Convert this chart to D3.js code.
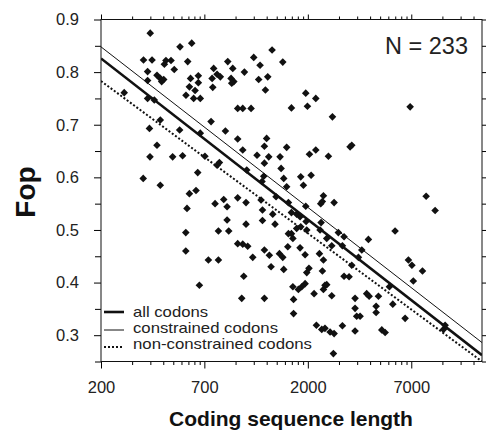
<!DOCTYPE html>
<html>
<head>
<meta charset="utf-8">
<script src="https://cdn.jsdelivr.net/npm/d3@7"></script>
<style>
  body { margin: 0; background: #fff; }
  svg { display: block; }
</style>
</head>
<body>
<svg width="487" height="436"></svg>
<script>
// coding sequence length (log axis) and Fop
const seqLength = [
  346, 482, 549, 1343, 321, 353, 412, 436, 405, 452, 525, 701, 820, 867, 1095, 1175, 1513,
  336, 373, 387, 402, 336, 393, 542, 591, 591, 728, 689, 755, 851, 877, 987, 1157, 1280,
  694, 857, 535, 570, 1247, 259, 515, 561, 604, 336, 362, 916, 969, 1063,
  343, 387, 480, 604, 681, 799, 916, 373, 345, 444, 496, 969, 1233, 1264, 1580, 1136, 1294,
  1233, 1468, 1485, 636, 728, 747, 587, 320, 387, 1013, 1224, 1201, 1529, 1580,
  535, 576, 916, 1005, 712, 784, 814, 521, 1188, 1207, 1353, 1404, 1611,
  814, 739, 829, 1005, 1207, 1388, 1611, 514, 916, 969, 1024, 1233, 1303, 1458, 1513, 1600,
  1083, 514, 661, 739, 1328, 1529, 980, 598, 958, 1233,
  1954, 2185, 1991, 1666, 2630, 6246, 3201, 3261, 2036, 2185, 2515, 1848, 1904, 2074,
  2379, 2309, 2350, 2679, 1954, 7464, 8248, 1666, 1766, 1834, 1962, 2318, 1766, 1848, 1976,
  1666, 1693, 2292, 2468, 2610, 2809, 2993, 2939, 3925, 3646, 5282, 1834, 1940, 2275, 2379,
  3261, 3512, 2025, 1976, 2352, 2993, 3165, 6127, 6371, 7165, 6470, 1940, 1693, 1800, 1869,
  2144, 2420, 2379, 2468, 2610, 1706, 1706, 3383, 3383, 3850, 3957, 4389, 4277, 4277, 3578,
  3445, 4960, 5149, 5906, 2200, 2335, 2420, 2562, 2679, 2939, 3383, 4556, 4728, 9219, 9052, 2658
];
const fop = [
  0.874, 0.848, 0.855, 0.842, 0.823, 0.823, 0.822, 0.822, 0.815, 0.805, 0.820, 0.807, 0.820, 0.807, 0.828, 0.813, 0.819,
  0.801, 0.794, 0.788, 0.786, 0.784, 0.782, 0.788, 0.793, 0.780, 0.796, 0.788, 0.791, 0.788, 0.782, 0.800, 0.786, 0.791,
  0.771, 0.779, 0.772, 0.765, 0.766, 0.761, 0.756, 0.750, 0.750, 0.750, 0.747, 0.731, 0.731, 0.731,
  0.693, 0.709, 0.690, 0.684, 0.706, 0.688, 0.673, 0.661, 0.639, 0.639, 0.641, 0.652, 0.659, 0.674, 0.657, 0.642, 0.639,
  0.627, 0.639, 0.617, 0.640, 0.623, 0.628, 0.609, 0.598, 0.585, 0.614, 0.602, 0.592, 0.598, 0.582,
  0.569, 0.575, 0.561, 0.552, 0.550, 0.558, 0.544, 0.541, 0.557, 0.538, 0.530, 0.563, 0.552,
  0.519, 0.498, 0.498, 0.511, 0.518, 0.511, 0.493, 0.495, 0.474, 0.473, 0.469, 0.462, 0.452, 0.455, 0.448, 0.468,
  0.448, 0.460, 0.443, 0.443, 0.430, 0.425, 0.412, 0.395, 0.370, 0.370,
  0.760, 0.750, 0.735, 0.732, 0.715, 0.734, 0.658, 0.661, 0.644, 0.652, 0.640, 0.601, 0.585, 0.604,
  0.565, 0.550, 0.554, 0.552, 0.545, 0.564, 0.537, 0.533, 0.530, 0.525, 0.516, 0.514, 0.503, 0.506, 0.500,
  0.493, 0.484, 0.500, 0.484, 0.470, 0.495, 0.487, 0.470, 0.482, 0.462, 0.498, 0.466, 0.453, 0.455, 0.443,
  0.433, 0.448, 0.427, 0.419, 0.422, 0.412, 0.411, 0.443, 0.433, 0.422, 0.403, 0.398, 0.392, 0.387, 0.392,
  0.379, 0.395, 0.387, 0.396, 0.375, 0.368, 0.341, 0.370, 0.351, 0.379, 0.374, 0.374, 0.355, 0.343, 0.336,
  0.336, 0.392, 0.359, 0.332, 0.319, 0.311, 0.313, 0.306, 0.303, 0.318, 0.308, 0.310, 0.305, 0.319, 0.311, 0.265
];

// regression lines: Fop at the two ends of the length axis
const lineNames = ["all codons", "constrained codons", "non-constrained codons"];
const lineEndLength = [200, 13900];
const lineFopStart = [0.826, 0.848, 0.783];
const lineFopEnd = [0.262, 0.286, 0.25];

// axis ticks
const xTickValues = [200, 632, 2000, 6325];
const xTickLabels = ["200", "700", "2000", "7000"];
const yTickValues = [0.3, 0.4, 0.5, 0.6, 0.7, 0.8, 0.9];
const yMinorValues = [0.25, 0.35, 0.45, 0.55, 0.65, 0.75, 0.85];

const nLabel = "N = 233";

const margin = { top: 19.5, right: 5, bottom: 74.5, left: 101 };
const width = 487 - margin.left - margin.right;
const height = 436 - margin.top - margin.bottom;

const svg = d3.select("svg").attr("font-family", "'Liberation Sans', Arial, sans-serif");

const x = d3.scaleLog().domain([200, 13900]).range([0, width]);
const y = d3.scaleLinear().domain([0.25, 0.9]).range([height, 0]);

// minor ticks follow a decade pattern squeezed into each half-decade step
const xMinor = [];
for (let k = -1; k < 4; k++) {
  for (let m = 2; m <= 9; m++) {
    const v = 200 * Math.pow(10, 0.5 * k + 0.5 * Math.log10(m));
    if (v > 200 && v < 13900) xMinor.push(v);
  }
}

const g = svg.append("g").attr("transform", `translate(${margin.left}, ${margin.top})`);

// axes
const fontSize = 16.5;

g.append("g")
  .attr("transform", `translate(0, ${height})`)
  .call(d3.axisBottom(x).tickValues(xTickValues).tickFormat((d, i) => xTickLabels[i]).tickSize(7).tickPadding(12.5))
  .call((a) => a.select(".domain").remove())
  .attr("font-size", fontSize)
  .attr("font-family", null);

g.append("g")
  .attr("transform", `translate(0, ${height})`)
  .call(d3.axisBottom(x).tickValues(xMinor).tickFormat("").tickSize(3.5))
  .call((a) => a.select(".domain").remove());

g.append("g")
  .call(d3.axisTop(x).tickValues(xTickValues).tickFormat("").tickSize(5))
  .call((a) => a.select(".domain").remove());

g.append("g")
  .call(d3.axisTop(x).tickValues(xMinor).tickFormat("").tickSize(3))
  .call((a) => a.select(".domain").remove());

g.append("g")
  .call(d3.axisLeft(y).tickValues(yTickValues).tickFormat(d3.format(".1f")).tickSize(7).tickPadding(15))
  .call((a) => a.select(".domain").remove())
  .attr("font-size", fontSize)
  .attr("font-family", null);

g.append("g")
  .call(d3.axisLeft(y).tickValues(yMinorValues).tickFormat("").tickSize(6))
  .call((a) => a.select(".domain").remove());

g.append("g")
  .attr("transform", `translate(${width}, 0)`)
  .call(d3.axisRight(y).tickValues(yTickValues.concat(yMinorValues)).tickFormat("").tickSize(4))
  .call((a) => a.select(".domain").remove());

g.selectAll(".tick text").attr("fill", "#222");

// frame
g.append("rect")
  .attr("width", width)
  .attr("height", height)
  .attr("fill", "none")
  .attr("stroke", "#111")
  .attr("stroke-width", 1);

// points
const points = seqLength.map((d, i) => ({ len: d, fop: fop[i] }));
const diamond = d3.symbol(d3.symbolSquare, 29);

g.append("g")
  .selectAll("path")
  .data(points)
  .join("path")
  .attr("d", diamond)
  .attr("transform", (d) => `translate(${x(d.len)}, ${y(d.fop)}) rotate(45)`)
  .attr("fill", "#111");

// regression lines
const lineStyles = [
  { width: 2.6, dash: null },
  { width: 1, dash: null },
  { width: 2, dash: "2,2" },
];

g.append("clipPath").attr("id", "plotClip")
  .append("rect").attr("width", width).attr("height", height);

const lineData = lineNames.map((name, i) => ({
  name: name,
  pts: [
    [lineEndLength[0], lineFopStart[i]],
    [lineEndLength[1], lineFopEnd[i]],
  ],
}));

const line = d3.line().x((d) => x(d[0])).y((d) => y(d[1]));

g.append("g")
  .attr("clip-path", "url(#plotClip)")
  .selectAll("path")
  .data(lineData)
  .join("path")
  .attr("d", (d) => line(d.pts))
  .attr("fill", "none")
  .attr("stroke", "#111")
  .attr("stroke-width", (d, i) => lineStyles[i].width)
  .attr("stroke-dasharray", (d, i) => lineStyles[i].dash);

// legend
const legendY = [312, 330, 347];
const textY = [316.5, 332.5, 349];
const legend = g.append("g").attr("transform", `translate(0, ${-margin.top})`);

legend.selectAll("line")
  .data(lineNames)
  .join("line")
  .attr("x1", 3)
  .attr("x2", 23)
  .attr("y1", (d, i) => legendY[i])
  .attr("y2", (d, i) => legendY[i])
  .attr("stroke", "#111")
  .attr("stroke-width", (d, i) => lineStyles[i].width)
  .attr("stroke-dasharray", (d, i) => lineStyles[i].dash);

legend.selectAll("text")
  .data(lineNames)
  .join("text")
  .attr("x", 32)
  .attr("y", (d, i) => textY[i])
  .attr("font-size", 15)
  .attr("textLength", (d, i) => [75, 145, 179][i])
  .attr("lengthAdjust", "spacingAndGlyphs")
  .attr("fill", "#222")
  .text((d) => d);

// N label
g.append("text")
  .attr("x", 468 - margin.left)
  .attr("y", 53.5 - margin.top)
  .attr("text-anchor", "end")
  .attr("font-size", 23.5)
  .attr("fill", "#222")
  .text(nLabel);

// axis titles
svg.append("text")
  .attr("x", 291)
  .attr("y", 426)
  .attr("text-anchor", "middle")
  .attr("font-size", 21)
  .attr("font-weight", "bold")
  .attr("fill", "#111")
  .text("Coding sequence length");

svg.append("text")
  .attr("transform", "translate(35, 192) rotate(-90)")
  .attr("text-anchor", "middle")
  .attr("font-size", 28)
  .attr("font-weight", "bold")
  .attr("fill", "#111")
  .text("Fop");
</script>
</body>
</html>
